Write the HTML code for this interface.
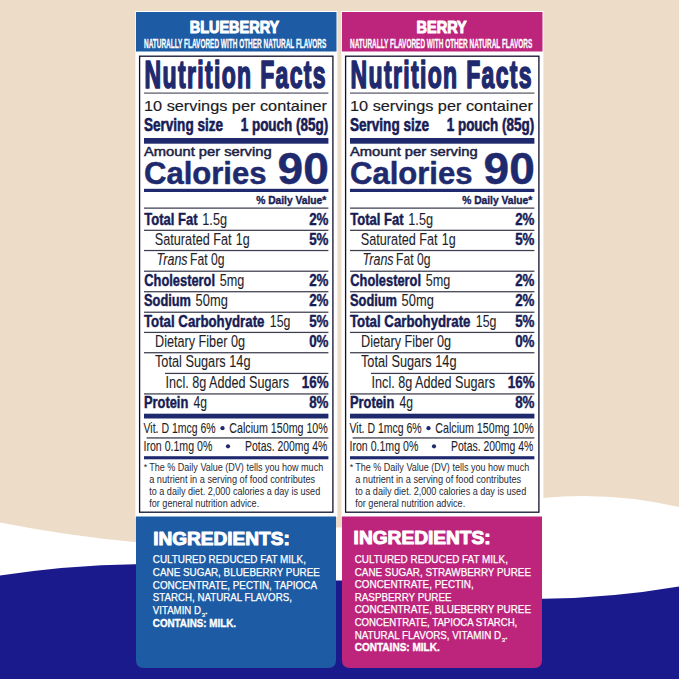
<!DOCTYPE html>
<html><head><meta charset="utf-8"><style>
html,body{margin:0;padding:0;width:679px;height:679px;overflow:hidden;background:#ecdcc8}
svg{display:block}
text{font-family:"Liberation Sans",sans-serif}
</style></head><body>
<svg width="679" height="679" viewBox="0 0 679 679">
<rect width="679" height="679" fill="#ecdcc8"/>
<path d="M0 522.4 Q67.5 535.7 135 542 L140 542.3 L337 527.6 L342 527.6 L543 498 Q611 491.5 679 507.1 V679 H0 Z" fill="#ffffff"/>
<path d="M0 575.6 Q67.5 565.3 135 564.3 L140 564.3 L337 580.5 L342 580.5 L543 598.7 Q611 598 679 586.4 V679 H0 Z" fill="#1b1a8c"/>
<rect x="135.40" y="11.00" width="202.00" height="506.00" fill="#ffffff" />
<rect x="136.00" y="12.00" width="200.50" height="39.50" fill="#1d5ba4" />
<text stroke="#ffffff" stroke-width="1.1" stroke-linejoin="round" x="189.70" y="33.30" font-size="16.86" font-weight="bold" fill="#ffffff" textLength="89.60" lengthAdjust="spacingAndGlyphs">BLUEBERRY</text>
<text stroke="#ffffff" stroke-width="0.3" stroke-linejoin="round" x="144.00" y="47.50" font-size="12.21" font-weight="bold" fill="#ffffff" textLength="182.30" lengthAdjust="spacingAndGlyphs">NATURALLY FLAVORED WITH OTHER NATURAL FLAVORS</text>
<rect x="139.60" y="56.2" width="193.3" height="456.0" fill="none" stroke="#101030" stroke-width="1.3"/>
<text stroke="#1f2a6e" stroke-width="1.7" stroke-linejoin="round" transform="translate(144.60 88.20) scale(0.6 1)" x="0" y="0" font-size="38.37" font-weight="bold" fill="#1f2a6e" textLength="301.67" lengthAdjust="spacing">Nutrition Facts</text>
<rect x="144.00" y="92.50" width="184.40" height="1.20" fill="#555566" />
<text stroke="#1a1a24" stroke-width="0.15" stroke-linejoin="round" x="144.00" y="110.80" font-size="13.95" fill="#1a1a24" textLength="183.00" lengthAdjust="spacingAndGlyphs">10 servings per container</text>
<text stroke="#181c55" stroke-width="0.6" stroke-linejoin="round" x="144.00" y="131.00" font-size="17.88" font-weight="bold" fill="#181c55" textLength="79.00" lengthAdjust="spacingAndGlyphs">Serving size</text>
<text stroke="#181c55" stroke-width="0.6" stroke-linejoin="round" x="240.70" y="131.00" font-size="17.88" font-weight="bold" fill="#181c55" textLength="87.50" lengthAdjust="spacingAndGlyphs">1 pouch (85g)</text>
<rect x="144.00" y="138.00" width="184.40" height="5.70" fill="#1f2a6e" />
<text stroke="#1c1f45" stroke-width="0.5" stroke-linejoin="round" x="144.00" y="155.60" font-size="12.79" fill="#1c1f45" textLength="127.60" lengthAdjust="spacingAndGlyphs">Amount per serving</text>
<text stroke="#1f2a6e" stroke-width="0.5" stroke-linejoin="round" x="144.00" y="184.00" font-size="31.54" font-weight="bold" fill="#1f2a6e" textLength="122.50" lengthAdjust="spacingAndGlyphs">Calories</text>
<text stroke="#1f2a6e" stroke-width="0.45" stroke-linejoin="round" x="277.60" y="184.20" font-size="44.04" font-weight="bold" fill="#1f2a6e" textLength="51.30" lengthAdjust="spacingAndGlyphs">90</text>
<rect x="144.00" y="188.80" width="184.40" height="3.20" fill="#1f2a6e" />
<text stroke="#181c55" stroke-width="0.4" stroke-linejoin="round" x="256.20" y="203.80" font-size="11.63" font-weight="bold" fill="#181c55" textLength="70.00" lengthAdjust="spacingAndGlyphs">% Daily Value*</text>
<text stroke="#181c55" stroke-width="0.45" stroke-linejoin="round" x="144.30" y="225.10" font-size="15.99" font-weight="bold" fill="#181c55" textLength="53.30" lengthAdjust="spacingAndGlyphs">Total Fat</text>
<text stroke="#1f1f2b" stroke-width="0.1" stroke-linejoin="round" x="202.30" y="225.10" font-size="15.70" fill="#1f1f2b" textLength="24.70" lengthAdjust="spacingAndGlyphs">1.5g</text>
<text stroke="#181c55" stroke-width="0.45" stroke-linejoin="round" x="309.20" y="225.10" font-size="15.99" font-weight="bold" fill="#181c55" textLength="19.30" lengthAdjust="spacingAndGlyphs">2%</text>
<text stroke="#1f1f2b" stroke-width="0.1" stroke-linejoin="round" x="154.80" y="245.40" font-size="15.70" fill="#1f1f2b" textLength="76.80" lengthAdjust="spacingAndGlyphs">Saturated Fat</text>
<text stroke="#1f1f2b" stroke-width="0.1" stroke-linejoin="round" x="235.80" y="245.40" font-size="15.70" fill="#1f1f2b" textLength="13.90" lengthAdjust="spacingAndGlyphs">1g</text>
<text stroke="#181c55" stroke-width="0.45" stroke-linejoin="round" x="309.20" y="245.40" font-size="15.99" font-weight="bold" fill="#181c55" textLength="19.30" lengthAdjust="spacingAndGlyphs">5%</text>
<text stroke="#1f1f2b" stroke-width="0.1" stroke-linejoin="round" x="156.60" y="265.40" font-size="15.70" font-style="italic" fill="#1f1f2b" textLength="31.00" lengthAdjust="spacingAndGlyphs">Trans</text>
<text stroke="#1f1f2b" stroke-width="0.1" stroke-linejoin="round" x="190.00" y="265.40" font-size="15.70" fill="#1f1f2b" textLength="34.40" lengthAdjust="spacingAndGlyphs">Fat 0g</text>
<text stroke="#181c55" stroke-width="0.45" stroke-linejoin="round" x="144.30" y="286.40" font-size="15.99" font-weight="bold" fill="#181c55" textLength="70.70" lengthAdjust="spacingAndGlyphs">Cholesterol</text>
<text stroke="#1f1f2b" stroke-width="0.1" stroke-linejoin="round" x="219.70" y="286.40" font-size="15.70" fill="#1f1f2b" textLength="24.60" lengthAdjust="spacingAndGlyphs">5mg</text>
<text stroke="#181c55" stroke-width="0.45" stroke-linejoin="round" x="309.20" y="286.40" font-size="15.99" font-weight="bold" fill="#181c55" textLength="19.30" lengthAdjust="spacingAndGlyphs">2%</text>
<text stroke="#181c55" stroke-width="0.45" stroke-linejoin="round" x="144.00" y="306.40" font-size="15.99" font-weight="bold" fill="#181c55" textLength="47.00" lengthAdjust="spacingAndGlyphs">Sodium</text>
<text stroke="#1f1f2b" stroke-width="0.1" stroke-linejoin="round" x="195.60" y="306.40" font-size="15.70" fill="#1f1f2b" textLength="32.20" lengthAdjust="spacingAndGlyphs">50mg</text>
<text stroke="#181c55" stroke-width="0.45" stroke-linejoin="round" x="309.20" y="306.40" font-size="15.99" font-weight="bold" fill="#181c55" textLength="19.30" lengthAdjust="spacingAndGlyphs">2%</text>
<text stroke="#181c55" stroke-width="0.45" stroke-linejoin="round" x="144.00" y="326.80" font-size="15.99" font-weight="bold" fill="#181c55" textLength="120.40" lengthAdjust="spacingAndGlyphs">Total Carbohydrate</text>
<text stroke="#1f1f2b" stroke-width="0.1" stroke-linejoin="round" x="269.80" y="326.80" font-size="15.70" fill="#1f1f2b" textLength="20.60" lengthAdjust="spacingAndGlyphs">15g</text>
<text stroke="#181c55" stroke-width="0.45" stroke-linejoin="round" x="309.20" y="326.80" font-size="15.99" font-weight="bold" fill="#181c55" textLength="19.30" lengthAdjust="spacingAndGlyphs">5%</text>
<text stroke="#1f1f2b" stroke-width="0.1" stroke-linejoin="round" x="155.00" y="347.20" font-size="15.70" fill="#1f1f2b" textLength="90.00" lengthAdjust="spacingAndGlyphs">Dietary Fiber 0g</text>
<text stroke="#181c55" stroke-width="0.45" stroke-linejoin="round" x="309.20" y="347.20" font-size="15.99" font-weight="bold" fill="#181c55" textLength="19.30" lengthAdjust="spacingAndGlyphs">0%</text>
<text stroke="#1f1f2b" stroke-width="0.1" stroke-linejoin="round" x="155.00" y="367.40" font-size="15.70" fill="#1f1f2b" textLength="95.50" lengthAdjust="spacingAndGlyphs">Total Sugars 14g</text>
<text stroke="#1f1f2b" stroke-width="0.1" stroke-linejoin="round" x="165.60" y="388.40" font-size="15.70" fill="#1f1f2b" textLength="123.40" lengthAdjust="spacingAndGlyphs">Incl. 8g Added Sugars</text>
<text stroke="#181c55" stroke-width="0.45" stroke-linejoin="round" x="301.80" y="388.40" font-size="15.99" font-weight="bold" fill="#181c55" textLength="26.70" lengthAdjust="spacingAndGlyphs">16%</text>
<text stroke="#181c55" stroke-width="0.45" stroke-linejoin="round" x="144.00" y="408.40" font-size="15.99" font-weight="bold" fill="#181c55" textLength="44.30" lengthAdjust="spacingAndGlyphs">Protein</text>
<text stroke="#1f1f2b" stroke-width="0.1" stroke-linejoin="round" x="193.50" y="408.40" font-size="15.70" fill="#1f1f2b" textLength="13.50" lengthAdjust="spacingAndGlyphs">4g</text>
<text stroke="#181c55" stroke-width="0.45" stroke-linejoin="round" x="309.20" y="408.40" font-size="15.99" font-weight="bold" fill="#181c55" textLength="19.30" lengthAdjust="spacingAndGlyphs">8%</text>
<rect x="144.00" y="207.50" width="184.40" height="1.25" fill="#3e3e50" />
<rect x="144.00" y="229.70" width="184.40" height="1.25" fill="#3e3e50" />
<rect x="144.00" y="249.90" width="184.40" height="1.25" fill="#3e3e50" />
<rect x="144.00" y="270.60" width="184.40" height="1.25" fill="#3e3e50" />
<rect x="144.00" y="291.10" width="184.40" height="1.25" fill="#3e3e50" />
<rect x="144.00" y="311.60" width="184.40" height="1.25" fill="#3e3e50" />
<rect x="144.00" y="331.80" width="184.40" height="1.25" fill="#3e3e50" />
<rect x="144.00" y="352.10" width="184.40" height="1.25" fill="#3e3e50" />
<rect x="165.00" y="372.80" width="163.40" height="1.25" fill="#3e3e50" />
<rect x="144.00" y="393.30" width="184.40" height="1.25" fill="#3e3e50" />
<rect x="144.00" y="413.70" width="184.40" height="4.80" fill="#1f2a6e" />
<text stroke="#1f1f2b" stroke-width="0.1" stroke-linejoin="round" x="143.50" y="432.80" font-size="15.41" fill="#1f1f2b" textLength="72.20" lengthAdjust="spacingAndGlyphs">Vit. D 1mcg 6%</text>
<circle cx="222.50" cy="428.2" r="2.1" fill="#1f2a6e"/>
<text stroke="#1f1f2b" stroke-width="0.1" stroke-linejoin="round" x="229.30" y="432.80" font-size="15.41" fill="#1f1f2b" textLength="98.50" lengthAdjust="spacingAndGlyphs">Calcium 150mg 10%</text>
<rect x="146.60" y="437.30" width="181.80" height="1.30" fill="#3e3e50" />
<text stroke="#1f1f2b" stroke-width="0.1" stroke-linejoin="round" x="143.50" y="451.10" font-size="15.41" fill="#1f1f2b" textLength="68.80" lengthAdjust="spacingAndGlyphs">Iron 0.1mg 0%</text>
<circle cx="228.00" cy="446.3" r="2.1" fill="#1f2a6e"/>
<text stroke="#1f1f2b" stroke-width="0.1" stroke-linejoin="round" x="245.00" y="451.10" font-size="15.41" fill="#1f1f2b" textLength="82.30" lengthAdjust="spacingAndGlyphs">Potas. 200mg 4%</text>
<rect x="144.00" y="456.20" width="184.40" height="3.10" fill="#1f2a6e" />
<text x="143.80" y="470.20" font-size="9.01" fill="#1f1f2b">*</text>
<text x="149.20" y="471.30" font-size="11.05" fill="#2a2a36" textLength="174.00" lengthAdjust="spacingAndGlyphs">The % Daily Value (DV) tells you how much</text>
<text x="149.20" y="483.15" font-size="11.05" fill="#2a2a36" textLength="166.00" lengthAdjust="spacingAndGlyphs">a nutrient in a serving of food contributes</text>
<text x="149.20" y="495.00" font-size="11.05" fill="#2a2a36" textLength="171.00" lengthAdjust="spacingAndGlyphs">to a daily diet. 2,000 calories a day is used</text>
<text x="149.20" y="506.85" font-size="11.05" fill="#2a2a36" textLength="110.00" lengthAdjust="spacingAndGlyphs">for general nutrition advice.</text>
<path d="M136 516.5 H336 V660 Q336 668 328 668 H144 Q136 668 136 660 Z" fill="#1d5ba4"/>
<text stroke="#ffffff" stroke-width="1.0" stroke-linejoin="round" x="153.20" y="544.60" font-size="18.02" font-weight="bold" fill="#ffffff" textLength="136.60" lengthAdjust="spacingAndGlyphs">INGREDIENTS:</text>
<text stroke="#ffffff" stroke-width="0.25" stroke-linejoin="round" x="152.80" y="563.40" font-size="10.32" fill="#ffffff" textLength="153.10" lengthAdjust="spacingAndGlyphs">CULTURED REDUCED FAT MILK,</text>
<text stroke="#ffffff" stroke-width="0.25" stroke-linejoin="round" x="152.80" y="576.05" font-size="10.32" fill="#ffffff" textLength="167.10" lengthAdjust="spacingAndGlyphs">CANE SUGAR, BLUEBERRY PUREE</text>
<text stroke="#ffffff" stroke-width="0.25" stroke-linejoin="round" x="152.80" y="588.70" font-size="10.32" fill="#ffffff" textLength="164.20" lengthAdjust="spacingAndGlyphs">CONCENTRATE, PECTIN, TAPIOCA</text>
<text stroke="#ffffff" stroke-width="0.25" stroke-linejoin="round" x="152.80" y="601.35" font-size="10.32" fill="#ffffff" textLength="139.10" lengthAdjust="spacingAndGlyphs">STARCH, NATURAL FLAVORS,</text>
<text stroke="#ffffff" stroke-width="0.25" stroke-linejoin="round" x="152.80" y="614.00" font-size="10.32" fill="#ffffff" textLength="48.20" lengthAdjust="spacingAndGlyphs">VITAMIN D</text>
<text stroke="#ffffff" stroke-width="0.2" stroke-linejoin="round" x="201.80" y="617.40" font-size="6.10" fill="#ffffff">3</text>
<text stroke="#ffffff" stroke-width="0.3" stroke-linejoin="round" x="204.80" y="614.00" font-size="11.05" fill="#ffffff">.</text>
<text stroke="#ffffff" stroke-width="0.35" stroke-linejoin="round" x="152.80" y="626.65" font-size="10.32" font-weight="bold" fill="#ffffff" textLength="83.20" lengthAdjust="spacingAndGlyphs">CONTAINS: MILK.</text>
<rect x="341.40" y="11.00" width="202.00" height="506.00" fill="#ffffff" />
<rect x="342.00" y="12.00" width="200.50" height="39.50" fill="#bd257c" />
<text stroke="#ffffff" stroke-width="1.1" stroke-linejoin="round" x="416.60" y="33.20" font-size="17.30" font-weight="bold" fill="#ffffff" textLength="50.20" lengthAdjust="spacingAndGlyphs">BERRY</text>
<text stroke="#ffffff" stroke-width="0.3" stroke-linejoin="round" x="350.00" y="47.50" font-size="12.21" font-weight="bold" fill="#ffffff" textLength="182.30" lengthAdjust="spacingAndGlyphs">NATURALLY FLAVORED WITH OTHER NATURAL FLAVORS</text>
<rect x="345.60" y="56.2" width="193.3" height="456.0" fill="none" stroke="#101030" stroke-width="1.3"/>
<text stroke="#1f2a6e" stroke-width="1.7" stroke-linejoin="round" transform="translate(350.60 88.20) scale(0.6 1)" x="0" y="0" font-size="38.37" font-weight="bold" fill="#1f2a6e" textLength="301.67" lengthAdjust="spacing">Nutrition Facts</text>
<rect x="350.00" y="92.50" width="184.40" height="1.20" fill="#555566" />
<text stroke="#1a1a24" stroke-width="0.15" stroke-linejoin="round" x="350.00" y="110.80" font-size="13.95" fill="#1a1a24" textLength="183.00" lengthAdjust="spacingAndGlyphs">10 servings per container</text>
<text stroke="#181c55" stroke-width="0.6" stroke-linejoin="round" x="350.00" y="131.00" font-size="17.88" font-weight="bold" fill="#181c55" textLength="79.00" lengthAdjust="spacingAndGlyphs">Serving size</text>
<text stroke="#181c55" stroke-width="0.6" stroke-linejoin="round" x="446.70" y="131.00" font-size="17.88" font-weight="bold" fill="#181c55" textLength="87.50" lengthAdjust="spacingAndGlyphs">1 pouch (85g)</text>
<rect x="350.00" y="138.00" width="184.40" height="5.70" fill="#1f2a6e" />
<text stroke="#1c1f45" stroke-width="0.5" stroke-linejoin="round" x="350.00" y="155.60" font-size="12.79" fill="#1c1f45" textLength="127.60" lengthAdjust="spacingAndGlyphs">Amount per serving</text>
<text stroke="#1f2a6e" stroke-width="0.5" stroke-linejoin="round" x="350.00" y="184.00" font-size="31.54" font-weight="bold" fill="#1f2a6e" textLength="122.50" lengthAdjust="spacingAndGlyphs">Calories</text>
<text stroke="#1f2a6e" stroke-width="0.45" stroke-linejoin="round" x="483.60" y="184.20" font-size="44.04" font-weight="bold" fill="#1f2a6e" textLength="51.30" lengthAdjust="spacingAndGlyphs">90</text>
<rect x="350.00" y="188.80" width="184.40" height="3.20" fill="#1f2a6e" />
<text stroke="#181c55" stroke-width="0.4" stroke-linejoin="round" x="462.20" y="203.80" font-size="11.63" font-weight="bold" fill="#181c55" textLength="70.00" lengthAdjust="spacingAndGlyphs">% Daily Value*</text>
<text stroke="#181c55" stroke-width="0.45" stroke-linejoin="round" x="350.30" y="225.10" font-size="15.99" font-weight="bold" fill="#181c55" textLength="53.30" lengthAdjust="spacingAndGlyphs">Total Fat</text>
<text stroke="#1f1f2b" stroke-width="0.1" stroke-linejoin="round" x="408.30" y="225.10" font-size="15.70" fill="#1f1f2b" textLength="24.70" lengthAdjust="spacingAndGlyphs">1.5g</text>
<text stroke="#181c55" stroke-width="0.45" stroke-linejoin="round" x="515.20" y="225.10" font-size="15.99" font-weight="bold" fill="#181c55" textLength="19.30" lengthAdjust="spacingAndGlyphs">2%</text>
<text stroke="#1f1f2b" stroke-width="0.1" stroke-linejoin="round" x="360.80" y="245.40" font-size="15.70" fill="#1f1f2b" textLength="76.80" lengthAdjust="spacingAndGlyphs">Saturated Fat</text>
<text stroke="#1f1f2b" stroke-width="0.1" stroke-linejoin="round" x="441.80" y="245.40" font-size="15.70" fill="#1f1f2b" textLength="13.90" lengthAdjust="spacingAndGlyphs">1g</text>
<text stroke="#181c55" stroke-width="0.45" stroke-linejoin="round" x="515.20" y="245.40" font-size="15.99" font-weight="bold" fill="#181c55" textLength="19.30" lengthAdjust="spacingAndGlyphs">5%</text>
<text stroke="#1f1f2b" stroke-width="0.1" stroke-linejoin="round" x="362.60" y="265.40" font-size="15.70" font-style="italic" fill="#1f1f2b" textLength="31.00" lengthAdjust="spacingAndGlyphs">Trans</text>
<text stroke="#1f1f2b" stroke-width="0.1" stroke-linejoin="round" x="396.00" y="265.40" font-size="15.70" fill="#1f1f2b" textLength="34.40" lengthAdjust="spacingAndGlyphs">Fat 0g</text>
<text stroke="#181c55" stroke-width="0.45" stroke-linejoin="round" x="350.30" y="286.40" font-size="15.99" font-weight="bold" fill="#181c55" textLength="70.70" lengthAdjust="spacingAndGlyphs">Cholesterol</text>
<text stroke="#1f1f2b" stroke-width="0.1" stroke-linejoin="round" x="425.70" y="286.40" font-size="15.70" fill="#1f1f2b" textLength="24.60" lengthAdjust="spacingAndGlyphs">5mg</text>
<text stroke="#181c55" stroke-width="0.45" stroke-linejoin="round" x="515.20" y="286.40" font-size="15.99" font-weight="bold" fill="#181c55" textLength="19.30" lengthAdjust="spacingAndGlyphs">2%</text>
<text stroke="#181c55" stroke-width="0.45" stroke-linejoin="round" x="350.00" y="306.40" font-size="15.99" font-weight="bold" fill="#181c55" textLength="47.00" lengthAdjust="spacingAndGlyphs">Sodium</text>
<text stroke="#1f1f2b" stroke-width="0.1" stroke-linejoin="round" x="401.60" y="306.40" font-size="15.70" fill="#1f1f2b" textLength="32.20" lengthAdjust="spacingAndGlyphs">50mg</text>
<text stroke="#181c55" stroke-width="0.45" stroke-linejoin="round" x="515.20" y="306.40" font-size="15.99" font-weight="bold" fill="#181c55" textLength="19.30" lengthAdjust="spacingAndGlyphs">2%</text>
<text stroke="#181c55" stroke-width="0.45" stroke-linejoin="round" x="350.00" y="326.80" font-size="15.99" font-weight="bold" fill="#181c55" textLength="120.40" lengthAdjust="spacingAndGlyphs">Total Carbohydrate</text>
<text stroke="#1f1f2b" stroke-width="0.1" stroke-linejoin="round" x="475.80" y="326.80" font-size="15.70" fill="#1f1f2b" textLength="20.60" lengthAdjust="spacingAndGlyphs">15g</text>
<text stroke="#181c55" stroke-width="0.45" stroke-linejoin="round" x="515.20" y="326.80" font-size="15.99" font-weight="bold" fill="#181c55" textLength="19.30" lengthAdjust="spacingAndGlyphs">5%</text>
<text stroke="#1f1f2b" stroke-width="0.1" stroke-linejoin="round" x="361.00" y="347.20" font-size="15.70" fill="#1f1f2b" textLength="90.00" lengthAdjust="spacingAndGlyphs">Dietary Fiber 0g</text>
<text stroke="#181c55" stroke-width="0.45" stroke-linejoin="round" x="515.20" y="347.20" font-size="15.99" font-weight="bold" fill="#181c55" textLength="19.30" lengthAdjust="spacingAndGlyphs">0%</text>
<text stroke="#1f1f2b" stroke-width="0.1" stroke-linejoin="round" x="361.00" y="367.40" font-size="15.70" fill="#1f1f2b" textLength="95.50" lengthAdjust="spacingAndGlyphs">Total Sugars 14g</text>
<text stroke="#1f1f2b" stroke-width="0.1" stroke-linejoin="round" x="371.60" y="388.40" font-size="15.70" fill="#1f1f2b" textLength="123.40" lengthAdjust="spacingAndGlyphs">Incl. 8g Added Sugars</text>
<text stroke="#181c55" stroke-width="0.45" stroke-linejoin="round" x="507.80" y="388.40" font-size="15.99" font-weight="bold" fill="#181c55" textLength="26.70" lengthAdjust="spacingAndGlyphs">16%</text>
<text stroke="#181c55" stroke-width="0.45" stroke-linejoin="round" x="350.00" y="408.40" font-size="15.99" font-weight="bold" fill="#181c55" textLength="44.30" lengthAdjust="spacingAndGlyphs">Protein</text>
<text stroke="#1f1f2b" stroke-width="0.1" stroke-linejoin="round" x="399.50" y="408.40" font-size="15.70" fill="#1f1f2b" textLength="13.50" lengthAdjust="spacingAndGlyphs">4g</text>
<text stroke="#181c55" stroke-width="0.45" stroke-linejoin="round" x="515.20" y="408.40" font-size="15.99" font-weight="bold" fill="#181c55" textLength="19.30" lengthAdjust="spacingAndGlyphs">8%</text>
<rect x="350.00" y="207.50" width="184.40" height="1.25" fill="#3e3e50" />
<rect x="350.00" y="229.70" width="184.40" height="1.25" fill="#3e3e50" />
<rect x="350.00" y="249.90" width="184.40" height="1.25" fill="#3e3e50" />
<rect x="350.00" y="270.60" width="184.40" height="1.25" fill="#3e3e50" />
<rect x="350.00" y="291.10" width="184.40" height="1.25" fill="#3e3e50" />
<rect x="350.00" y="311.60" width="184.40" height="1.25" fill="#3e3e50" />
<rect x="350.00" y="331.80" width="184.40" height="1.25" fill="#3e3e50" />
<rect x="350.00" y="352.10" width="184.40" height="1.25" fill="#3e3e50" />
<rect x="371.00" y="372.80" width="163.40" height="1.25" fill="#3e3e50" />
<rect x="350.00" y="393.30" width="184.40" height="1.25" fill="#3e3e50" />
<rect x="350.00" y="413.70" width="184.40" height="4.80" fill="#1f2a6e" />
<text stroke="#1f1f2b" stroke-width="0.1" stroke-linejoin="round" x="349.50" y="432.80" font-size="15.41" fill="#1f1f2b" textLength="72.20" lengthAdjust="spacingAndGlyphs">Vit. D 1mcg 6%</text>
<circle cx="428.50" cy="428.2" r="2.1" fill="#1f2a6e"/>
<text stroke="#1f1f2b" stroke-width="0.1" stroke-linejoin="round" x="435.30" y="432.80" font-size="15.41" fill="#1f1f2b" textLength="98.50" lengthAdjust="spacingAndGlyphs">Calcium 150mg 10%</text>
<rect x="352.60" y="437.30" width="181.80" height="1.30" fill="#3e3e50" />
<text stroke="#1f1f2b" stroke-width="0.1" stroke-linejoin="round" x="349.50" y="451.10" font-size="15.41" fill="#1f1f2b" textLength="68.80" lengthAdjust="spacingAndGlyphs">Iron 0.1mg 0%</text>
<circle cx="434.00" cy="446.3" r="2.1" fill="#1f2a6e"/>
<text stroke="#1f1f2b" stroke-width="0.1" stroke-linejoin="round" x="451.00" y="451.10" font-size="15.41" fill="#1f1f2b" textLength="82.30" lengthAdjust="spacingAndGlyphs">Potas. 200mg 4%</text>
<rect x="350.00" y="456.20" width="184.40" height="3.10" fill="#1f2a6e" />
<text x="349.80" y="470.20" font-size="9.01" fill="#1f1f2b">*</text>
<text x="355.20" y="471.30" font-size="11.05" fill="#2a2a36" textLength="174.00" lengthAdjust="spacingAndGlyphs">The % Daily Value (DV) tells you how much</text>
<text x="355.20" y="483.15" font-size="11.05" fill="#2a2a36" textLength="166.00" lengthAdjust="spacingAndGlyphs">a nutrient in a serving of food contributes</text>
<text x="355.20" y="495.00" font-size="11.05" fill="#2a2a36" textLength="171.00" lengthAdjust="spacingAndGlyphs">to a daily diet. 2,000 calories a day is used</text>
<text x="355.20" y="506.85" font-size="11.05" fill="#2a2a36" textLength="110.00" lengthAdjust="spacingAndGlyphs">for general nutrition advice.</text>
<path d="M342 516.5 H542 V660 Q542 668 534 668 H350 Q342 668 342 660 Z" fill="#bd257c"/>
<text stroke="#ffffff" stroke-width="1.0" stroke-linejoin="round" x="353.60" y="544.20" font-size="18.02" font-weight="bold" fill="#ffffff" textLength="137.00" lengthAdjust="spacingAndGlyphs">INGREDIENTS:</text>
<text stroke="#ffffff" stroke-width="0.25" stroke-linejoin="round" x="354.70" y="562.90" font-size="10.32" fill="#ffffff" textLength="153.20" lengthAdjust="spacingAndGlyphs">CULTURED REDUCED FAT MILK,</text>
<text stroke="#ffffff" stroke-width="0.25" stroke-linejoin="round" x="354.70" y="575.53" font-size="10.32" fill="#ffffff" textLength="176.30" lengthAdjust="spacingAndGlyphs">CANE SUGAR, STRAWBERRY PUREE</text>
<text stroke="#ffffff" stroke-width="0.25" stroke-linejoin="round" x="354.70" y="588.16" font-size="10.32" fill="#ffffff" textLength="119.00" lengthAdjust="spacingAndGlyphs">CONCENTRATE, PECTIN,</text>
<text stroke="#ffffff" stroke-width="0.25" stroke-linejoin="round" x="354.70" y="600.79" font-size="10.32" fill="#ffffff" textLength="96.90" lengthAdjust="spacingAndGlyphs">RASPBERRY PUREE</text>
<text stroke="#ffffff" stroke-width="0.25" stroke-linejoin="round" x="354.70" y="613.42" font-size="10.32" fill="#ffffff" textLength="176.30" lengthAdjust="spacingAndGlyphs">CONCENTRATE, BLUEBERRY PUREE</text>
<text stroke="#ffffff" stroke-width="0.25" stroke-linejoin="round" x="354.70" y="626.05" font-size="10.32" fill="#ffffff" textLength="162.60" lengthAdjust="spacingAndGlyphs">CONCENTRATE, TAPIOCA STARCH,</text>
<text stroke="#ffffff" stroke-width="0.25" stroke-linejoin="round" x="354.70" y="638.68" font-size="10.32" fill="#ffffff" textLength="146.30" lengthAdjust="spacingAndGlyphs">NATURAL FLAVORS, VITAMIN D</text>
<text stroke="#ffffff" stroke-width="0.2" stroke-linejoin="round" x="501.80" y="642.08" font-size="6.10" fill="#ffffff">3</text>
<text stroke="#ffffff" stroke-width="0.3" stroke-linejoin="round" x="504.80" y="638.68" font-size="11.05" fill="#ffffff">.</text>
<text stroke="#ffffff" stroke-width="0.35" stroke-linejoin="round" x="354.70" y="651.31" font-size="10.32" font-weight="bold" fill="#ffffff" textLength="85.10" lengthAdjust="spacingAndGlyphs">CONTAINS: MILK.</text>
</svg></body></html>
